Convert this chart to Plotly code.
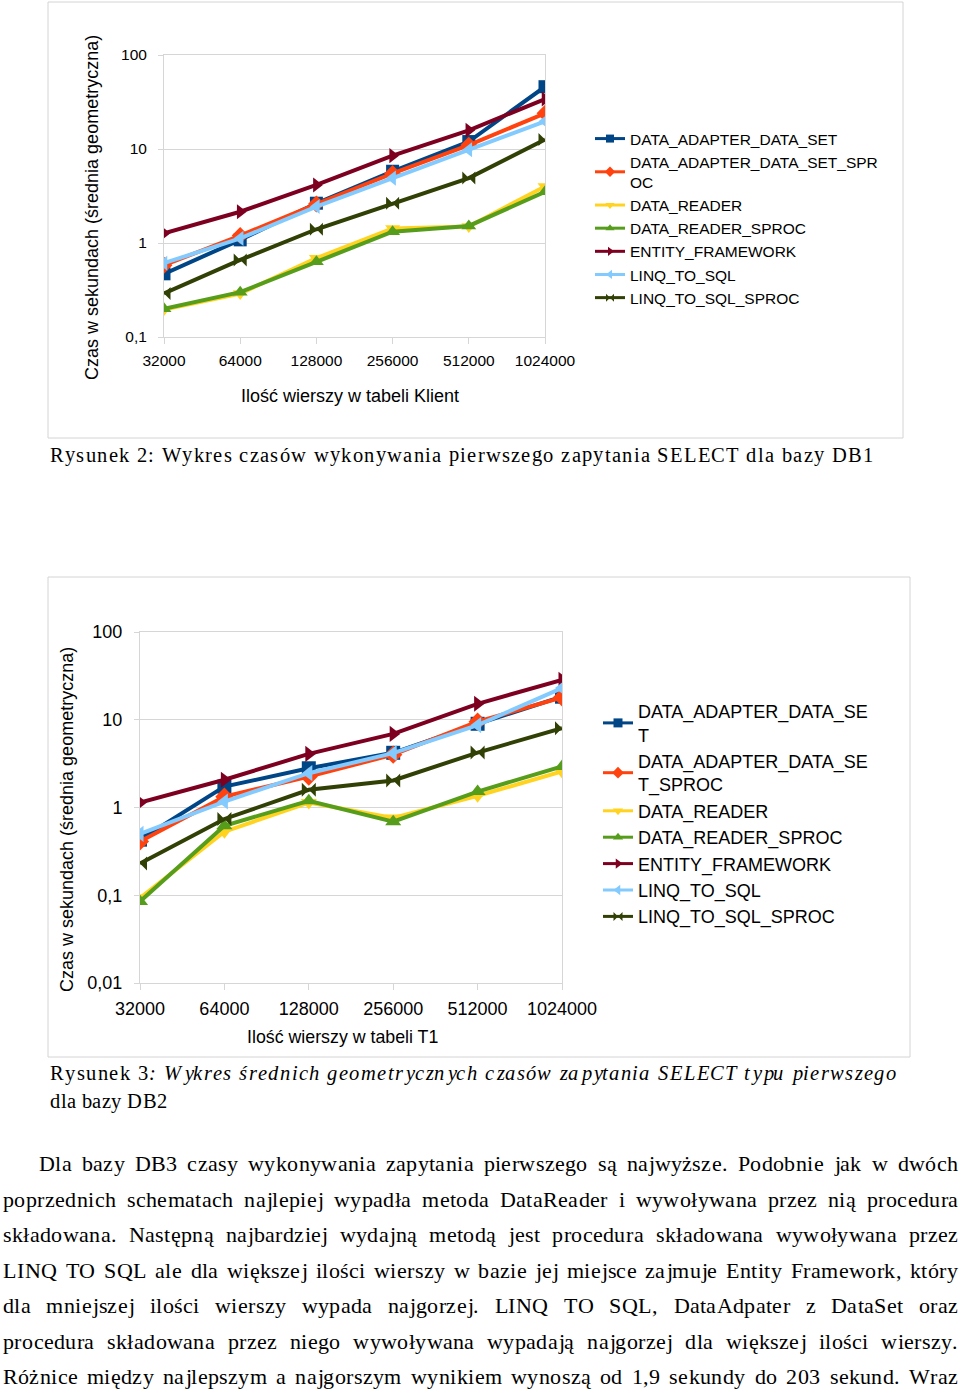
import glob
import plotly.graph_objects as go

W, H = 960, 1390


def px(x):
    return x / W


def py(y):
    return 1 - y / H


# ---------------- data ----------------
rows = ["32000", "64000", "128000", "256000", "512000", "1024000"]
series_names = ["DATA_ADAPTER_DATA_SET", "DATA_ADAPTER_DATA_SET_SPROC", "DATA_READER",
                "DATA_READER_SPROC", "ENTITY_FRAMEWORK", "LINQ_TO_SQL", "LINQ_TO_SQL_SPROC"]
legend1_labels = ["DATA_ADAPTER_DATA_SET", "DATA_ADAPTER_DATA_SET_SPR<br>OC", "DATA_READER",
                  "DATA_READER_SPROC", "ENTITY_FRAMEWORK", "LINQ_TO_SQL", "LINQ_TO_SQL_SPROC"]
legend2_labels = ["DATA_ADAPTER_DATA_SE<br>T", "DATA_ADAPTER_DATA_SE<br>T_SPROC", "DATA_READER",
                  "DATA_READER_SPROC", "ENTITY_FRAMEWORK", "LINQ_TO_SQL", "LINQ_TO_SQL_SPROC"]

# DB1 (Rysunek 2)
db1_data_adapter_data_set = [0.47, 1.08, 2.65, 5.8, 12.0, 46.0]
db1_data_adapter_data_set_sproc = [0.58, 1.2, 2.6, 5.5, 11.0, 24.0]
db1_data_reader = [0.196, 0.29, 0.69, 1.43, 1.5, 4.0]
db1_data_reader_sproc = [0.2, 0.30, 0.63, 1.32, 1.52, 3.5]
db1_entity_framework = [1.27, 2.15, 4.15, 8.5, 15.8, 34.0]
db1_linq_to_sql = [0.61, 1.12, 2.44, 4.9, 9.8, 19.7]
db1_linq_to_sql_sproc = [0.29, 0.66, 1.4, 2.65, 4.9, 12.6]

# DB2 (Rysunek 3)
db2_data_adapter_data_set = [0.43, 1.73, 2.8, 4.2, 9.0, 18.3]
db2_data_adapter_data_set_sproc = [0.41, 1.33, 2.25, 4.0, 9.5, 18.0]
db2_data_reader = [0.093, 0.53, 1.14, 0.76, 1.36, 2.57]
db2_data_reader_sproc = [0.085, 0.62, 1.19, 0.69, 1.52, 2.93]
db2_entity_framework = [1.14, 2.07, 4.08, 6.9, 15.2, 28.5]
db2_linq_to_sql = [0.5, 1.17, 2.46, 4.16, 8.7, 23.0]
db2_linq_to_sql_sproc = [0.23, 0.74, 1.59, 2.03, 4.23, 8.0]

db1 = [db1_data_adapter_data_set, db1_data_adapter_data_set_sproc, db1_data_reader,
       db1_data_reader_sproc, db1_entity_framework, db1_linq_to_sql, db1_linq_to_sql_sproc]
db2 = [db2_data_adapter_data_set, db2_data_adapter_data_set_sproc, db2_data_reader,
       db2_data_reader_sproc, db2_entity_framework, db2_linq_to_sql, db2_linq_to_sql_sproc]

y1_ticks = [0.1, 1, 10, 100]
y1_ticktext = ["0,1", "1", "10", "100"]
y2_ticks = [0.01, 0.1, 1, 10, 100]
y2_ticktext = ["0,01", "0,1", "1", "10", "100"]

y_title = "Czas w sekundach (średnia geometryczna)"
x1_title = "Ilość wierszy w tabeli Klient"
x2_title = "Ilość wierszy w tabeli T1"

caption1 = "Rysunek 2: Wykres czasów wykonywania pierwszego zapytania SELECT dla bazy DB1"
caption2_line1 = [[("Rysunek", False)], [("3", False), (":", True)], [("Wykres", True)],
                  [("średnich", True)], [("geometrycznych", True)], [("czasów", True)],
                  [("zapytania", True)], [("SELECT", True)], [("typu", True)], [("pierwszego", True)]]
caption2_line2 = "dla bazy DB2"

paragraph = [
    "Dla bazy DB3 czasy wykonywania zapytania pierwszego są najwyższe. Podobnie jak w dwóch",
    "poprzednich schematach najlepiej wypadła metoda DataReader i wywoływana przez nią procedura",
    "składowana. Następną najbardziej wydajną metodą jest procedura składowana wywoływana przez",
    "LINQ TO SQL ale dla większej ilości wierszy w bazie jej miejsce zajmuje Entity Framework, który",
    "dla mniejszej ilości wierszy wypada najgorzej. LINQ TO SQL, DataAdpater z DataSet oraz",
    "procedura składowana przez niego wywoływana wypadają najgorzej dla większej ilości wierszy.",
    "Różnice między najlepszym a najgorszym wynikiem wynoszą od 1,9 sekundy do 203 sekund. Wraz",
]

# ---------------- styles ----------------
colors = ["#004586", "#ff420e", "#ffd320", "#579d1c", "#7e0021", "#83caff", "#314004"]
symbols = ["square", "diamond", "triangle-down", "triangle-up", "triangle-right",
           "triangle-left", "bowtie"]
GRID = "#d6d6d6"
SANS = "Liberation Sans, Arial, sans-serif"
SERIF = "Liberation Serif, Times New Roman, serif"

fig = go.Figure()

for i, name in enumerate(series_names):
    fig.add_trace(go.Scatter(
        x=rows, y=db1[i], mode="lines+markers", name=name, showlegend=False,
        line=dict(color=colors[i], width=4),
        marker=dict(symbol=symbols[i], size=13, color=colors[i], line=dict(width=0)),
        xaxis="x", yaxis="y"))
    fig.add_trace(go.Scatter(
        x=[None], y=[None], mode="lines+markers", name=legend1_labels[i], legend="legend",
        line=dict(color=colors[i], width=3),
        marker=dict(symbol=symbols[i], size=8, color=colors[i], line=dict(width=0)),
        xaxis="x", yaxis="y"))

for i, name in enumerate(series_names):
    fig.add_trace(go.Scatter(
        x=rows, y=db2[i], mode="lines+markers", name=name, showlegend=False,
        line=dict(color=colors[i], width=4),
        marker=dict(symbol=symbols[i], size=14, color=colors[i], line=dict(width=0)),
        xaxis="x2", yaxis="y2"))
    fig.add_trace(go.Scatter(
        x=[None], y=[None], mode="lines+markers", name=legend2_labels[i], legend="legend2",
        line=dict(color=colors[i], width=3),
        marker=dict(symbol=symbols[i], size=9, color=colors[i], line=dict(width=0)),
        xaxis="x2", yaxis="y2"))


def xaxis_cfg(domain, anchor, fsize, standoff):
    return dict(type="category", domain=domain, anchor=anchor, range=[0, 5],
                showgrid=False, showline=True, linecolor=GRID, linewidth=1, mirror=True,
                ticks="outside", ticklen=6, tickcolor=GRID, zeroline=False,
                tickfont=dict(family=SANS, size=fsize, color="#000"),
                ticklabelstandoff=standoff, fixedrange=True, automargin=False)


def yaxis_cfg(domain, anchor, rng, tv, tt, fsize, standoff):
    return dict(type="log", domain=domain, anchor=anchor, range=rng,
                tickvals=tv, ticktext=tt, showgrid=True, gridcolor=GRID, gridwidth=1,
                showline=True, linecolor=GRID, linewidth=1, mirror=True,
                ticks="outside", ticklen=5, tickcolor=GRID, zeroline=False,
                tickfont=dict(family=SANS, size=fsize, color="#000"),
                ticklabelstandoff=standoff, fixedrange=True, automargin=False)


annotations = []
shapes = [
    dict(type="rect", xref="paper", yref="paper", x0=px(48), x1=px(903), y0=py(438), y1=py(2),
         line=dict(color="#d4d4d4", width=1), fillcolor="rgba(0,0,0,0)", layer="below"),
    dict(type="rect", xref="paper", yref="paper", x0=px(48), x1=px(910), y0=py(1057), y1=py(577),
         line=dict(color="#d4d4d4", width=1), fillcolor="rgba(0,0,0,0)", layer="below"),
]

# axis titles
annotations += [
    dict(text=y_title, x=px(92), y=py(208), xref="paper", yref="paper", textangle=-90,
         showarrow=False, xanchor="center", yanchor="middle",
         font=dict(family=SANS, size=18, color="#000")),
    dict(text=y_title, x=px(67), y=py(820), xref="paper", yref="paper", textangle=-90,
         showarrow=False, xanchor="center", yanchor="middle",
         font=dict(family=SANS, size=18, color="#000")),
    dict(text=x1_title, x=px(350), y=py(396), xref="paper", yref="paper",
         showarrow=False, xanchor="center", yanchor="middle",
         font=dict(family=SANS, size=18, color="#000")),
    dict(text=x2_title, x=px(342), y=py(1037), xref="paper", yref="paper",
         showarrow=False, xanchor="center", yanchor="middle",
         font=dict(family=SANS, size=17.8, color="#000")),
]

# ---------------- letter-spaced, justified text helpers ----------------
MEASURE_SCALE = 20


def load_font(fname, size):
    try:
        from PIL import ImageFont
    except Exception:
        return None
    for p in glob.glob("/usr/share/fonts/**/" + fname, recursive=True) + \
            glob.glob("/usr/local/share/fonts/**/" + fname, recursive=True):
        try:
            return ImageFont.truetype(p, size)
        except Exception:
            pass
    return None


fonts_cache = {}


def get_font(italic):
    if italic not in fonts_cache:
        fonts_cache[italic] = load_font("LiberationSerif-Italic.ttf" if italic else
                                        "LiberationSerif-Regular.ttf", 50 * MEASURE_SCALE)
    return fonts_cache[italic]


def char_w(c, italic, size):
    # measured at a large size for accurate fractional advances
    return get_font(italic).getlength(c) * size / (50.0 * MEASURE_SCALE)


def seg_html(segs):
    return "".join("<i>%s</i>" % t if it else t for t, it in segs)


def add_text(text, x, yc, size, italic=False):
    annotations.append(dict(
        text="<i>%s</i>" % text if italic else text, x=px(x - 1), y=py(yc),
        xref="paper", yref="paper", showarrow=False, xanchor="left", yanchor="middle",
        font=dict(family=SERIF, size=size, color="#000")))


def place_line(words, x0, x1, yc, size, ls=None, justify=True):
    """words: list of words, each a list of (text, italic) segments.
    ls=None -> spread the extra space evenly between all characters."""
    if get_font(False) is None or get_font(True) is None:
        annotations.append(dict(
            text=" ".join(seg_html(w) for w in words), x=px(x0 - 1), y=py(yc),
            xref="paper", yref="paper", showarrow=False, xanchor="left", yanchor="middle",
            font=dict(family=SERIF, size=size, color="#000")))
        return
    space = char_w(" ", False, size)
    chars_per_word = []
    for w in words:
        chars = [(c, it) for t, it in w for c in t]
        chars_per_word.append([(c, it, char_w(c, it, size)) for c, it in chars])
    if ls is None:
        nat = sum(cw for cpw in chars_per_word for _, _, cw in cpw) + space * (len(words) - 1)
        nchars = sum(len(cpw) for cpw in chars_per_word) + len(words) - 1
        ls = (x1 - x0 - nat) / (nchars - 1)
    widths = [sum(cw for _, _, cw in cpw) + ls * (len(cpw) - 1) for cpw in chars_per_word]
    if justify and len(words) > 1:
        gap = (x1 - x0 - sum(widths)) / (len(words) - 1)
    else:
        gap = space + 2 * ls
    x = x0
    for cpw, wd in zip(chars_per_word, widths):
        cx = x
        for c, it, cw in cpw:
            add_text(c, cx, yc, size, it)
            cx += cw + ls
        x += wd + gap


def plain_words(s):
    return [[(w, False)] for w in s.split(" ")]


# captions
place_line(plain_words(caption1), 49, 872, 455, 20.5)
place_line(caption2_line1, 49, 895, 1073, 20.5)
place_line(plain_words(caption2_line2), 49, 166, 1101, 20.5)

# paragraph
para_y = [1163, 1199, 1234, 1270, 1305, 1341, 1376]
for k, (line, yc) in enumerate(zip(paragraph, para_y)):
    place_line(plain_words(line), 38 if k == 0 else 2, 957, yc, 22, 0.4)

fig.update_layout(
    width=W, height=H, margin=dict(l=0, r=0, t=0, b=0, autoexpand=False),
    paper_bgcolor="white", plot_bgcolor="white",
    xaxis=xaxis_cfg([px(164), px(545)], "y", 15.5, 3),
    yaxis=yaxis_cfg([py(337), py(55)], "x", [-1, 2], y1_ticks, y1_ticktext, 15.5, 8),
    xaxis2=xaxis_cfg([px(140), px(562)], "y2", 18, 3),
    yaxis2=yaxis_cfg([py(983), py(632)], "x2", [-2, 2], y2_ticks, y2_ticktext, 18, 8),
    legend=dict(x=px(590), y=py(122), xanchor="left", yanchor="top",
                font=dict(family=SANS, size=15.5, color="#000"),
                bgcolor="rgba(0,0,0,0)", borderwidth=0, tracegroupgap=0, itemwidth=30),
    legend2=dict(x=px(598), y=py(693), xanchor="left", yanchor="top",
                 font=dict(family=SANS, size=18, color="#000"),
                 bgcolor="rgba(0,0,0,0)", borderwidth=0, tracegroupgap=0, itemwidth=30),
    annotations=annotations, shapes=shapes,
)

fig.write_html("out.html")
